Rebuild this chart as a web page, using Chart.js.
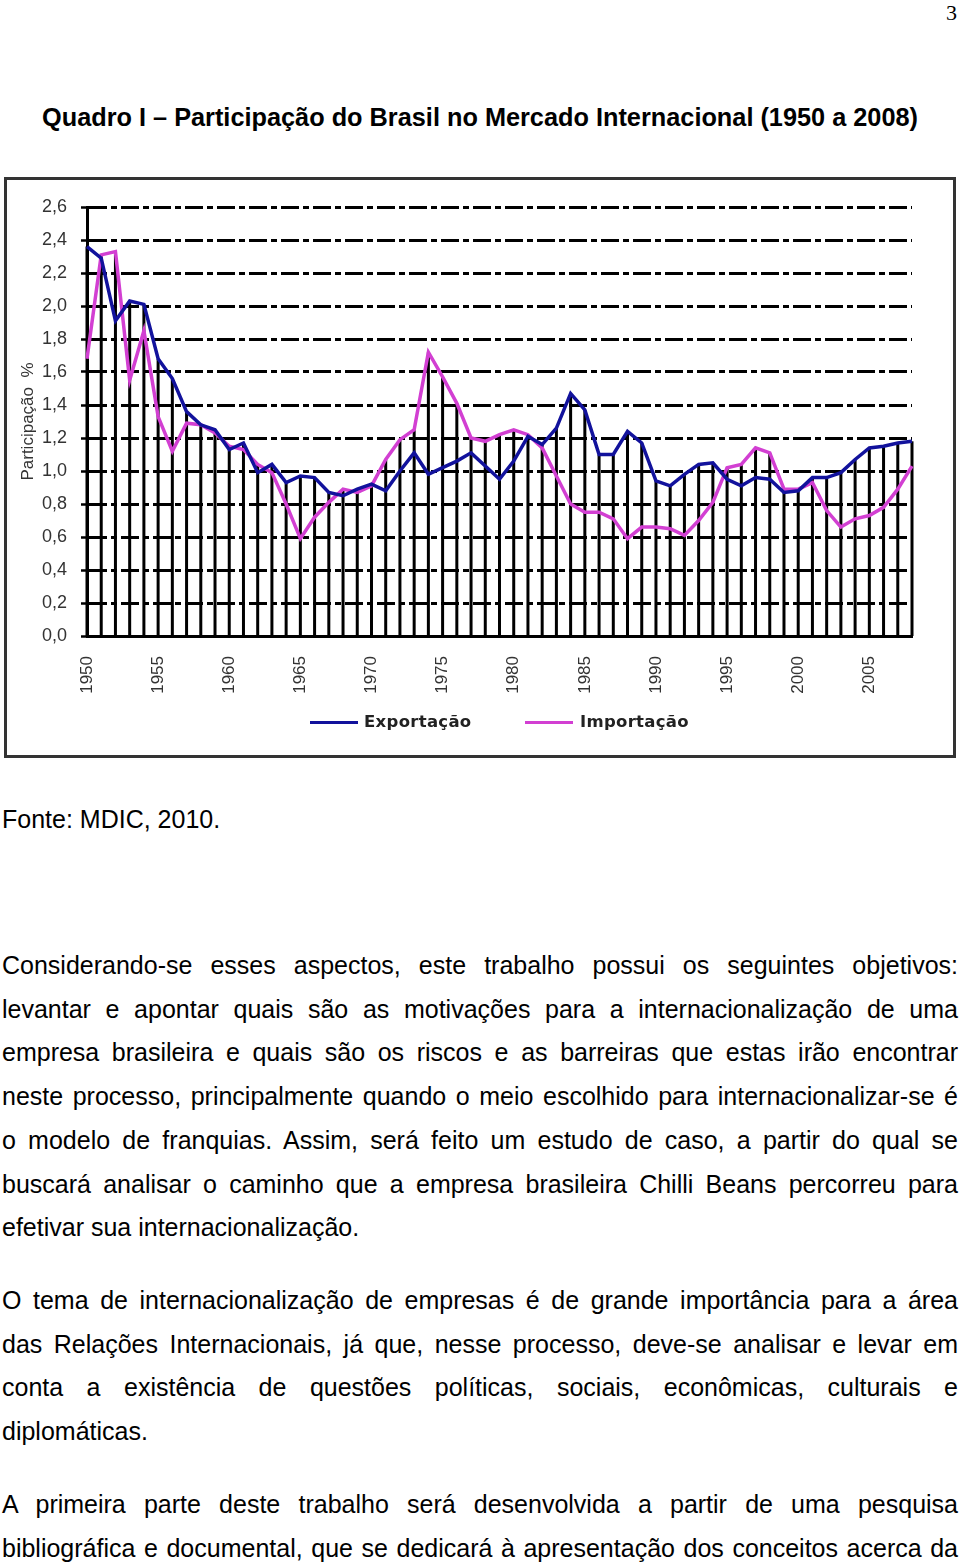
<!DOCTYPE html>
<html>
<head>
<meta charset="utf-8">
<script src="https://cdn.jsdelivr.net/npm/chart.js@4.4.0/dist/chart.umd.min.js"></script>
<style>
  body { margin: 0; background: #fff; width: 960px; height: 1564px; overflow: hidden; position: relative;
         font-family: "Liberation Sans", Arial, sans-serif; color: #000; }
  .pg { position: absolute; right: 3px; top: 0; font-family: "Liberation Serif", serif; font-size: 22px; }
  #title { position: absolute; left: 42px; top: 102px; font-weight: bold; font-size: 26px; white-space: nowrap; transform-origin: 0 0; }
  #box { position: absolute; left: 4px; top: 177px; width: 946px; height: 575px; border: 3px solid #333; }
  #box canvas { display: block; }
  .leg { position: absolute; font-family: "DejaVu Sans", sans-serif; font-weight: bold; font-size: 16.5px; letter-spacing: 0.3px; color: #222; white-space: nowrap; }
  .legline { position: absolute; height: 3px; width: 48px; }
  .ln { position: absolute; left: 2px; width: 956px; font-size: 25px; line-height: 43.7px; white-space: nowrap; }
</style>
</head>
<body>
<div class="pg">3</div>
<div id="title"><span>Quadro I – Participação do Brasil no Mercado Internacional (1950 a 2008)</span></div>

<div id="box"><canvas id="chart" width="946" height="575"></canvas></div>
<div class="legline" style="left:310px; top:721px; background:#12129c"></div>
<div class="leg" style="left:364px; top:712px">Exportação</div>
<div class="legline" style="left:525px; top:721px; background:#d23fd2"></div>
<div class="leg" style="left:580px; top:712px">Importação</div>

<div class="ln" style="top:798px">Fonte: MDIC, 2010.</div>

<div class="ln j" style="top:944px"><span>Considerando-se esses aspectos, este trabalho possui os seguintes objetivos:</span></div>
<div class="ln j" style="top:987.7px"><span>levantar e apontar quais são as motivações para a internacionalização de uma</span></div>
<div class="ln j" style="top:1031.4px"><span>empresa brasileira e quais são os riscos e as barreiras que estas irão encontrar</span></div>
<div class="ln j" style="top:1075.1px"><span>neste processo, principalmente quando o meio escolhido para internacionalizar-se é</span></div>
<div class="ln j" style="top:1118.8px"><span>o modelo de franquias. Assim, será feito um estudo de caso, a partir do qual se</span></div>
<div class="ln j" style="top:1162.5px"><span>buscará analisar o caminho que a empresa brasileira Chilli Beans percorreu para</span></div>
<div class="ln" style="top:1206.2px">efetivar sua internacionalização.</div>

<div class="ln j" style="top:1279px"><span>O tema de internacionalização de empresas é de grande importância para a área</span></div>
<div class="ln j" style="top:1322.7px"><span>das Relações Internacionais, já que, nesse processo, deve-se analisar e levar em</span></div>
<div class="ln j" style="top:1366.4px"><span>conta a existência de questões políticas, sociais, econômicas, culturais e</span></div>
<div class="ln" style="top:1410.1px">diplomáticas.</div>

<div class="ln j" style="top:1483px"><span>A primeira parte deste trabalho será desenvolvida a partir de uma pesquisa</span></div>
<div class="ln j" style="top:1526.7px"><span>bibliográfica e documental, que se dedicará à apresentação dos conceitos acerca da</span></div>

<script>
// Participação do Brasil (%)
const anos = ['1950','1951','1952','1953','1954','1955','1956','1957','1958','1959',
              '1960','1961','1962','1963','1964','1965','1966','1967','1968','1969',
              '1970','1971','1972','1973','1974','1975','1976','1977','1978','1979',
              '1980','1981','1982','1983','1984','1985','1986','1987','1988','1989',
              '1990','1991','1992','1993','1994','1995','1996','1997','1998','1999',
              '2000','2001','2002','2003','2004','2005','2006','2007','2008'];

const exportacao = [2.36, 2.29, 1.91, 2.03, 2.01, 1.68, 1.56, 1.36, 1.28, 1.25,
                    1.13, 1.17, 0.99, 1.04, 0.93, 0.97, 0.96, 0.87, 0.85, 0.89,
                    0.92, 0.88, 1.00, 1.11, 0.98, 1.02, 1.06, 1.11, 1.03, 0.95,
                    1.06, 1.21, 1.16, 1.26, 1.47, 1.37, 1.10, 1.10, 1.24, 1.17,
                    0.94, 0.91, 0.98, 1.04, 1.05, 0.95, 0.91, 0.96, 0.95, 0.87,
                    0.88, 0.96, 0.96, 0.99, 1.07, 1.14, 1.15, 1.17, 1.18];

const importacao = [1.68, 2.31, 2.33, 1.55, 1.85, 1.33, 1.12, 1.29, 1.28, 1.23,
                    1.15, 1.13, 1.04, 0.99, 0.80, 0.59, 0.72, 0.81, 0.89, 0.87,
                    0.91, 1.07, 1.19, 1.25, 1.72, 1.57, 1.41, 1.20, 1.18, 1.22,
                    1.25, 1.22, 1.14, 0.97, 0.80, 0.75, 0.75, 0.71, 0.59, 0.66,
                    0.66, 0.65, 0.61, 0.70, 0.81, 1.02, 1.04, 1.14, 1.11, 0.89,
                    0.89, 0.93, 0.76, 0.66, 0.71, 0.73, 0.78, 0.89, 1.03];

const anosRotulo = ['1950','1955','1960','1965','1970','1975','1980','1985','1990','1995','2000','2005'];

// linhas verticais do maior valor até o eixo
const linhasQueda = {
    id: 'linhasQueda',
    beforeDatasetsDraw(chart) {
        const { ctx, scales: { x, y } } = chart;
        ctx.save();
        ctx.strokeStyle = '#000';
        ctx.lineWidth = 3;
        anos.forEach((a, i) => {
            const px = x.getPixelForValue(i);
            ctx.beginPath();
            ctx.moveTo(px, y.getPixelForValue(Math.max(exportacao[i], importacao[i])));
            ctx.lineTo(px, y.getPixelForValue(0));
            ctx.stroke();
        });
        ctx.restore();
    }
};

new Chart(document.getElementById('chart').getContext('2d'), {
    type: 'line',
    data: {
        labels: anos,
        datasets: [
            { label: 'Exportação', data: exportacao, borderColor: '#12129c', borderWidth: 3.5,
              pointRadius: 0, tension: 0, fill: false },
            { label: 'Importação', data: importacao, borderColor: '#d23fd2', borderWidth: 3.5,
              pointRadius: 0, tension: 0, fill: false }
        ]
    },
    options: {
        responsive: false,
        animation: false,
        layout: { padding: { top: 27, right: 41, left: 0, bottom: 0 } },
        plugins: { legend: { display: false }, tooltip: { enabled: false } },
        scales: {
            x: {
                offset: false,
                grid: { display: false },
                border: { display: true, color: '#000', width: 3 },
                ticks: {
                    autoSkip: false, maxRotation: 90, minRotation: 90, padding: 12,
                    color: '#333', font: { family: 'Liberation Sans', size: 17 },
                    callback: (v, i) => anosRotulo.includes(anos[i]) ? anos[i] : ''
                },
                afterFit: s => { s.height = 119; }
            },
            y: {
                min: 0, max: 2.6,
                ticks: {
                    stepSize: 0.2, padding: 14, color: '#333',
                    font: { family: 'Liberation Sans', size: 18 },
                    callback: v => v.toFixed(1).replace('.', ',')
                },
                grid: { color: '#000', lineWidth: 3, tickLength: 6, tickColor: '#000', tickWidth: 2.5 },
                border: { display: true, color: '#000', width: 3, dash: [18, 4, 6, 4] },
                title: { display: true, text: 'Participação  %', color: '#333',
                         font: { family: 'Liberation Sans', size: 17 }, padding: { top: 11, bottom: 0 } },
                afterFit: s => { s.width = 80; }
            }
        }
    },
    plugins: [linhasQueda]
});

// título ajustado à largura do original
const t = document.querySelector('#title span');
document.getElementById('title').style.transform = 'scaleX(' + (876 / t.getBoundingClientRect().width) + ')';

// linhas justificadas
document.querySelectorAll('.ln.j').forEach(el => {
    const sp = el.querySelector('span');
    const w = sp.getBoundingClientRect().width;
    const n = (sp.textContent.match(/ /g) || []).length;
    el.style.wordSpacing = ((956 - w) / n) + 'px';
});
</script>
</body>
</html>
